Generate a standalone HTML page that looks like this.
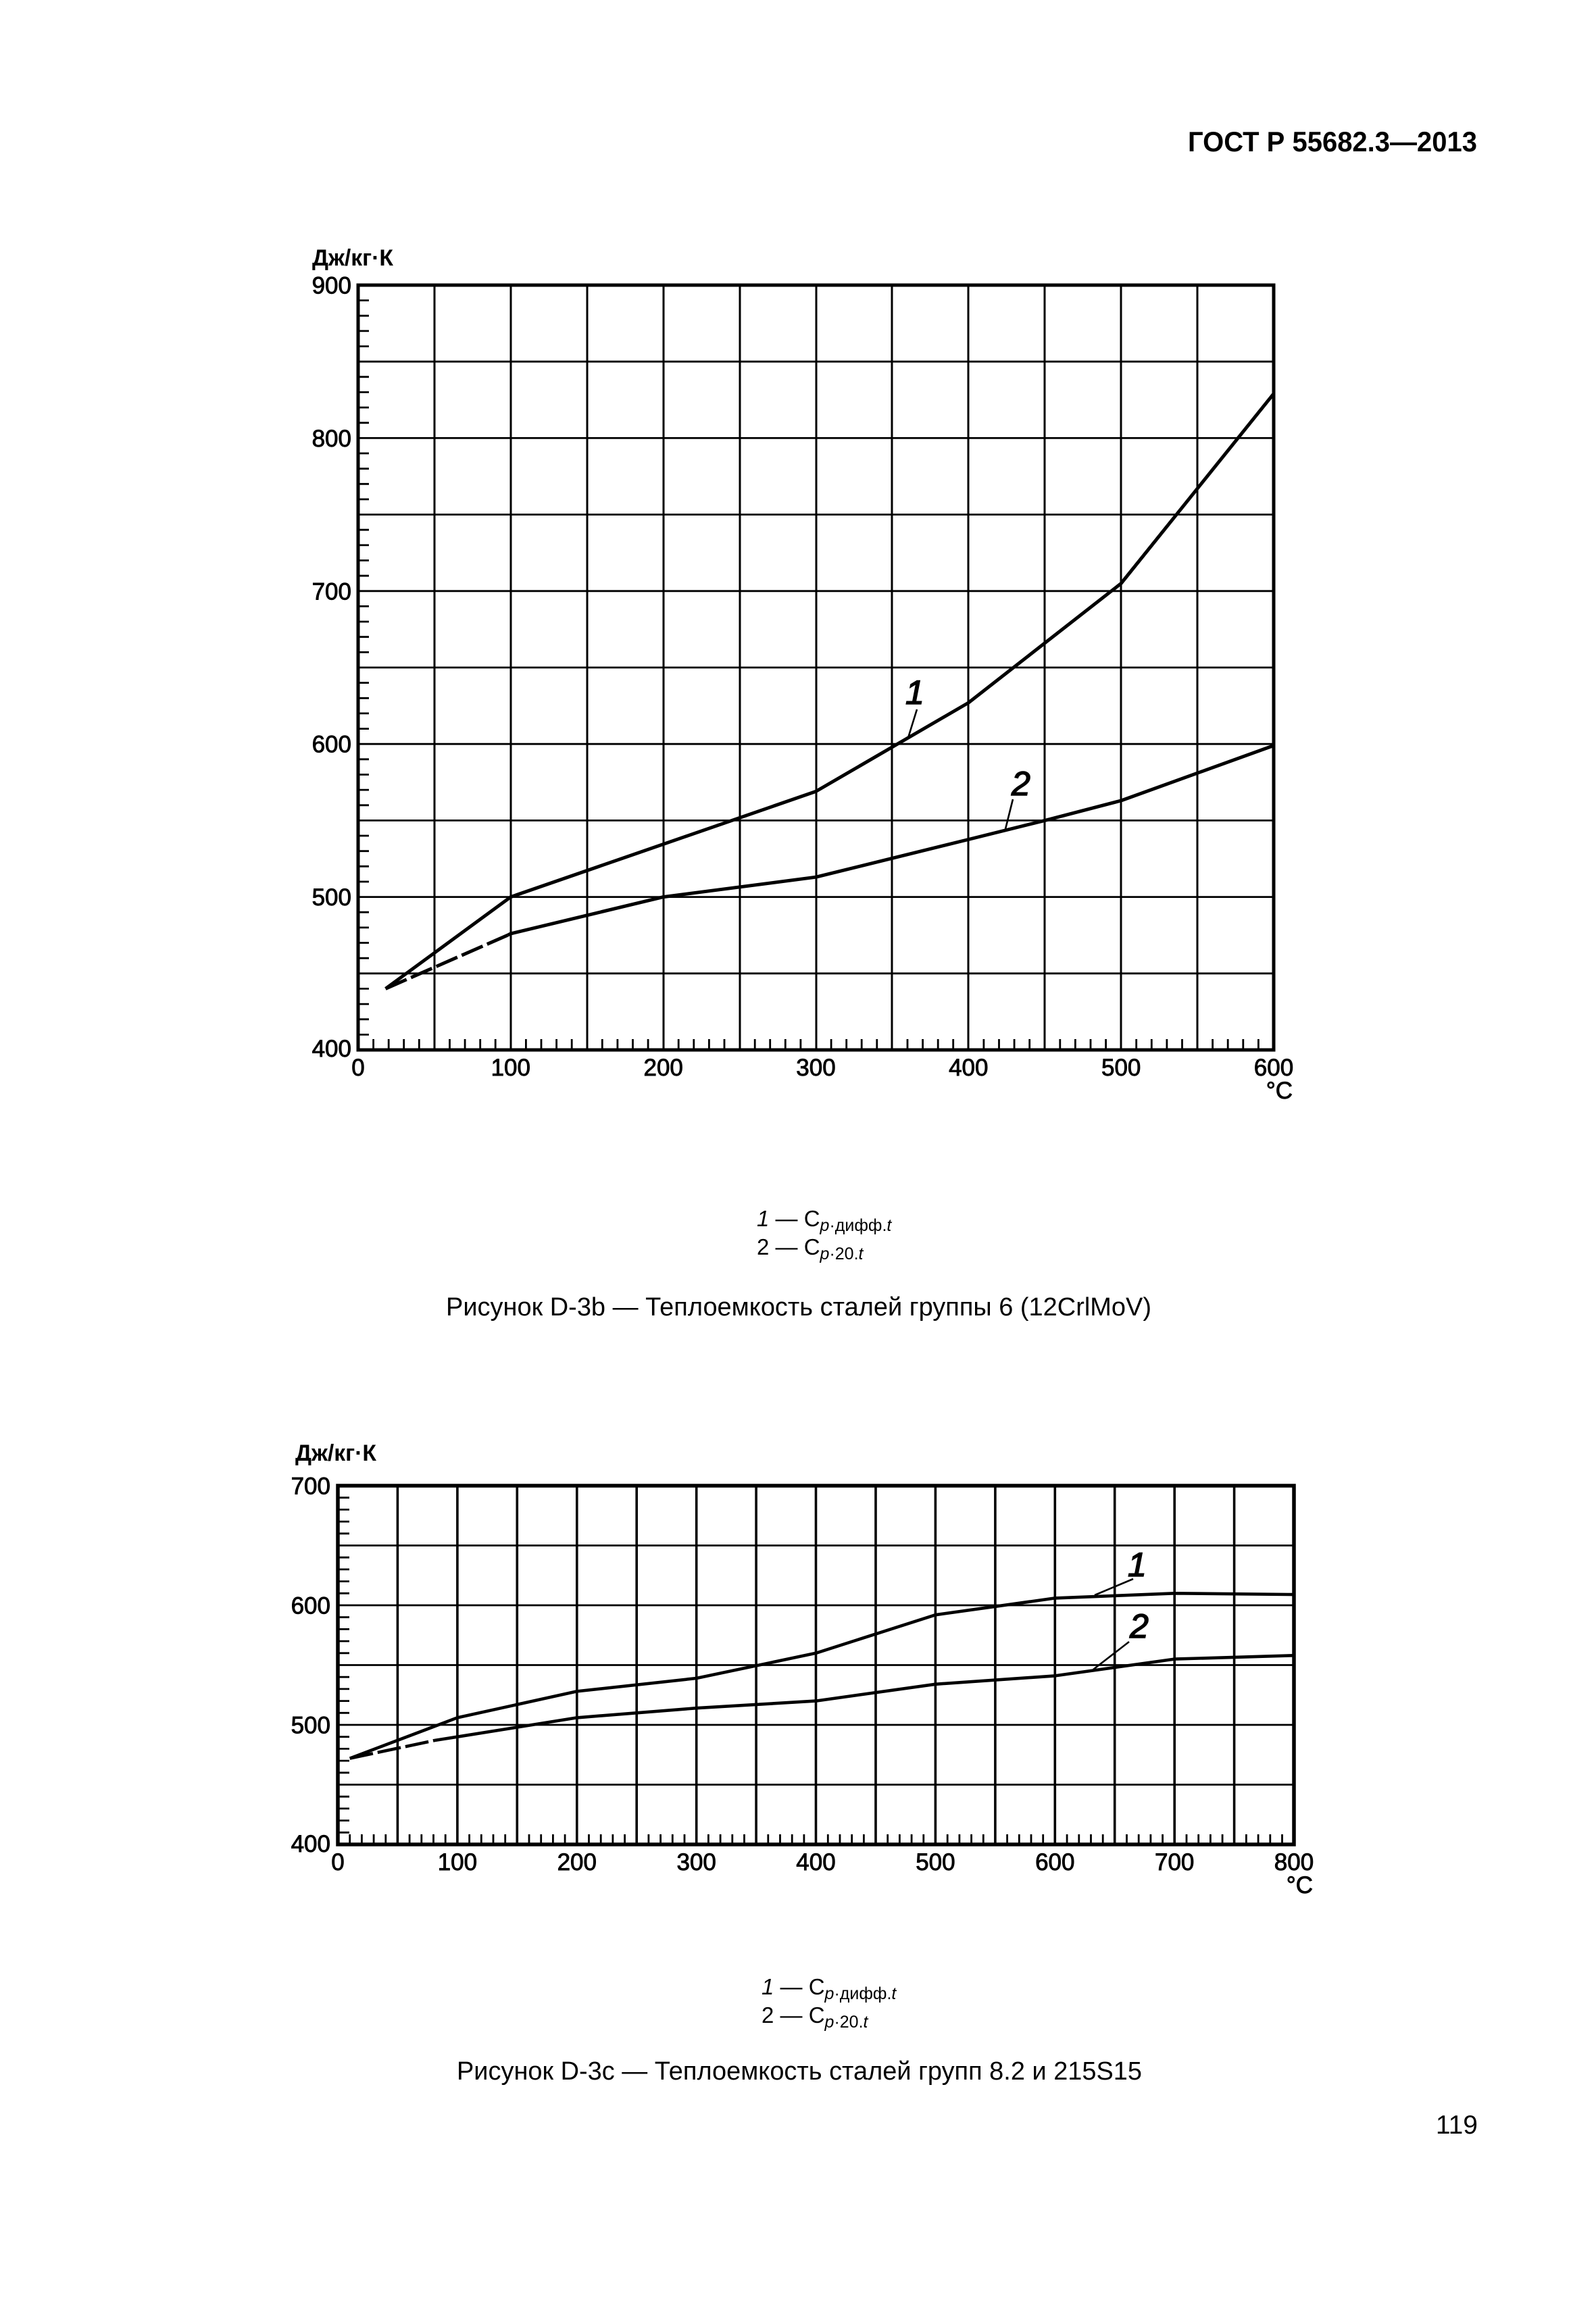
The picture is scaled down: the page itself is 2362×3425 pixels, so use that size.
<!DOCTYPE html>
<html>
<head>
<meta charset="utf-8">
<style>
  html, body { margin: 0; padding: 0; background: #ffffff; }
  svg { display: block; }
  text { font-family: "Liberation Sans", "Noto Sans CJK SC", sans-serif; fill: #000; }
  .num { stroke: #000; stroke-width: 0.9px; }
  .lbl { stroke: #000; stroke-width: 1.6px; }
</style>
</head>
<body>
<svg width="2362" height="3425" viewBox="0 0 2362 3425" xmlns="http://www.w3.org/2000/svg">
  <rect x="0" y="0" width="2362" height="3425" fill="#ffffff"/>

  <!-- Header -->
  <text x="2186" y="224" font-size="42" font-weight="bold" text-anchor="end" textLength="428" lengthAdjust="spacingAndGlyphs">ГОСТ Р 55682.3—2013</text>

  <!-- ================= CHART 1 ================= -->
  <g stroke="#000" fill="none">
    <path stroke-width="3" d="M643,422V1554 M756,422V1554 M869,422V1554 M982,422V1554 M1095,422V1554 M1208,422V1554 M1320,422V1554 M1433,422V1554 M1546,422V1554 M1659,422V1554 M1772,422V1554"/>
    <path stroke-width="2.8" d="M530,535.2H1885 M530,648.4H1885 M530,761.6H1885 M530,874.8H1885 M530,988H1885 M530,1101.2H1885 M530,1214.4H1885 M530,1327.6H1885 M530,1440.8H1885"/>
    <path stroke-width="2.8" d="M530,1531.4h16 M530,1508.7h16 M530,1486.1h16 M530,1463.4h16 M530,1418.2h16 M530,1395.5h16 M530,1372.9h16 M530,1350.2h16 M530,1305h16 M530,1282.3h16 M530,1259.7h16 M530,1237h16 M530,1191.8h16 M530,1169.1h16 M530,1146.5h16 M530,1123.8h16 M530,1078.6h16 M530,1055.9h16 M530,1033.3h16 M530,1010.6h16 M530,965.4h16 M530,942.7h16 M530,920.1h16 M530,897.4h16 M530,852.2h16 M530,829.5h16 M530,806.9h16 M530,784.2h16 M530,739h16 M530,716.3h16 M530,693.7h16 M530,671h16 M530,625.8h16 M530,603.1h16 M530,580.5h16 M530,557.8h16 M530,512.6h16 M530,489.9h16 M530,467.3h16 M530,444.6h16"/>
    <path stroke-width="2.8" d="M552.6,1554v-16 M575.2,1554v-16 M597.7,1554v-16 M620.3,1554v-16 M665.5,1554v-16 M688.1,1554v-16 M710.7,1554v-16 M733.2,1554v-16 M778.4,1554v-16 M801,1554v-16 M823.6,1554v-16 M846.2,1554v-16 M891.3,1554v-16 M913.9,1554v-16 M936.5,1554v-16 M959.1,1554v-16 M1004.2,1554v-16 M1026.8,1554v-16 M1049.4,1554v-16 M1072,1554v-16 M1117.2,1554v-16 M1139.7,1554v-16 M1162.3,1554v-16 M1184.9,1554v-16 M1230.1,1554v-16 M1252.7,1554v-16 M1275.2,1554v-16 M1297.8,1554v-16 M1343,1554v-16 M1365.6,1554v-16 M1388.2,1554v-16 M1410.7,1554v-16 M1455.9,1554v-16 M1478.5,1554v-16 M1501.1,1554v-16 M1523.7,1554v-16 M1568.8,1554v-16 M1591.4,1554v-16 M1614,1554v-16 M1636.6,1554v-16 M1681.7,1554v-16 M1704.3,1554v-16 M1726.9,1554v-16 M1749.5,1554v-16 M1794.6,1554v-16 M1817.2,1554v-16 M1839.8,1554v-16 M1862.4,1554v-16"/>
    <rect x="530" y="422" width="1355" height="1132" stroke-width="5"/>
    <polyline stroke-width="5" stroke-linejoin="round" points="570.6,1463.4 755.8,1327.6 1207.5,1171.4 1433.3,1040.1 1659.2,863.5 1885,582.7"/>
    <path stroke-width="5" stroke-dasharray="34 7" d="M570.6,1463.4 L751.3,1384.2"/>
    <polyline stroke-width="5" stroke-linejoin="round" points="751.3,1384.2 755.8,1381.9 981.7,1327.6 1207.5,1298.2 1433.3,1242.5 1546.3,1214.4 1659.2,1185 1885,1103.5"/>
    <path stroke-width="2.6" d="M1357,1050 L1344,1092 M1499,1183 L1488,1227"/>
  </g>
  <text x="462" y="393" font-size="34" font-weight="bold" textLength="120" lengthAdjust="spacingAndGlyphs">Дж/кг·К</text>
  <g font-size="35" text-anchor="end" class="num">
    <text x="520" y="434.5">900</text>
    <text x="520" y="661">800</text>
    <text x="520" y="887.3">700</text>
    <text x="520" y="1113.7">600</text>
    <text x="520" y="1340">500</text>
    <text x="520" y="1564">400</text>
  </g>
  <g font-size="35" text-anchor="middle" class="num">
    <text x="530" y="1592">0</text>
    <text x="755.8" y="1592">100</text>
    <text x="981.7" y="1592">200</text>
    <text x="1207.5" y="1592">300</text>
    <text x="1433.3" y="1592">400</text>
    <text x="1659.2" y="1592">500</text>
    <text x="1885" y="1592">600</text>
  </g>
  <text x="1913" y="1626" font-size="35" text-anchor="end" class="num">°C</text>
  <text x="1340" y="1042" font-size="50" font-style="italic" class="lbl">1</text>
  <text x="1497" y="1177" font-size="50" font-style="italic" class="lbl">2</text>

  <text x="1120" y="1815" font-size="33"><tspan font-style="italic">1</tspan> — C<tspan font-size="25" font-style="italic" dy="7">p</tspan><tspan font-size="25">·дифф.</tspan><tspan font-size="25" font-style="italic">t</tspan></text>
  <text x="1120" y="1857" font-size="33">2 — C<tspan font-size="25" font-style="italic" dy="7">p</tspan><tspan font-size="25">·20.</tspan><tspan font-size="25" font-style="italic">t</tspan></text>
  <text x="1182" y="1947" font-size="38" text-anchor="middle" textLength="1044" lengthAdjust="spacingAndGlyphs">Рисунок D-3b — Теплоемкость сталей группы 6 (12CrlMoV)</text>

  <!-- ================= CHART 2 ================= -->
  <g stroke="#000" fill="none">
    <path stroke-width="3.6" d="M588.4,2199V2730 M676.9,2199V2730 M765.3,2199V2730 M853.8,2199V2730 M942.2,2199V2730 M1030.7,2199V2730 M1119.1,2199V2730 M1207.5,2199V2730 M1296,2199V2730 M1384.4,2199V2730 M1472.9,2199V2730 M1561.3,2199V2730 M1649.7,2199V2730 M1738.2,2199V2730 M1826.6,2199V2730"/>
    <path stroke-width="2.8" d="M500,2287.5H1915 M500,2376H1915 M500,2464.5H1915 M500,2553H1915 M500,2641.5H1915"/>
    <path stroke-width="2.8" d="M500,2712.3h17 M500,2694.6h17 M500,2676.9h17 M500,2659.2h17 M500,2623.8h17 M500,2606.1h17 M500,2588.4h17 M500,2570.7h17 M500,2535.3h17 M500,2517.6h17 M500,2499.9h17 M500,2482.2h17 M500,2446.8h17 M500,2429.1h17 M500,2411.4h17 M500,2393.7h17 M500,2358.3h17 M500,2340.6h17 M500,2322.9h17 M500,2305.2h17 M500,2269.8h17 M500,2252.1h17 M500,2234.4h17 M500,2216.7h17"/>
    <path stroke-width="2.8" d="M517.7,2730v-15 M535.4,2730v-15 M553.1,2730v-15 M570.8,2730v-15 M606.1,2730v-15 M623.8,2730v-15 M641.5,2730v-15 M659.2,2730v-15 M694.6,2730v-15 M712.3,2730v-15 M730,2730v-15 M747.7,2730v-15 M783,2730v-15 M800.7,2730v-15 M818.4,2730v-15 M836.1,2730v-15 M871.5,2730v-15 M889.2,2730v-15 M906.9,2730v-15 M924.6,2730v-15 M959.9,2730v-15 M977.6,2730v-15 M995.3,2730v-15 M1013,2730v-15 M1048.4,2730v-15 M1066.1,2730v-15 M1083.8,2730v-15 M1101.5,2730v-15 M1136.8,2730v-15 M1154.5,2730v-15 M1172.2,2730v-15 M1189.9,2730v-15 M1225.3,2730v-15 M1243,2730v-15 M1260.7,2730v-15 M1278.4,2730v-15 M1313.7,2730v-15 M1331.4,2730v-15 M1349.1,2730v-15 M1366.8,2730v-15 M1402.2,2730v-15 M1419.9,2730v-15 M1437.6,2730v-15 M1455.3,2730v-15 M1490.6,2730v-15 M1508.3,2730v-15 M1526,2730v-15 M1543.7,2730v-15 M1579.1,2730v-15 M1596.8,2730v-15 M1614.5,2730v-15 M1632.2,2730v-15 M1667.5,2730v-15 M1685.2,2730v-15 M1702.9,2730v-15 M1720.6,2730v-15 M1756,2730v-15 M1773.7,2730v-15 M1791.4,2730v-15 M1809.1,2730v-15 M1844.4,2730v-15 M1862.1,2730v-15 M1879.8,2730v-15 M1897.5,2730v-15"/>
    <rect x="500" y="2199" width="1415" height="531" stroke-width="5.5"/>
    <polyline stroke-width="4.6" stroke-linejoin="round" points="517.7,2602.6 676.9,2542.4 853.8,2503.4 1030.7,2484 1207.6,2446.8 1384.5,2390.2 1561.4,2365.4 1738.3,2358.3 1915,2360.1"/>
    <path stroke-width="4.6" stroke-dasharray="35 7" d="M517.7,2602.6 L643.3,2576"/>
    <polyline stroke-width="4.6" stroke-linejoin="round" points="643.3,2576 676.9,2570.7 853.8,2542.4 1030.7,2528.2 1207.6,2517.6 1384.5,2492.8 1561.4,2480.4 1649.9,2468 1738.3,2455.6 1915,2450.3"/>
    <path stroke-width="2.6" d="M1677,2337 L1620,2361 M1671,2430 L1618,2471"/>
  </g>
  <text x="437" y="2162" font-size="34" font-weight="bold" textLength="120" lengthAdjust="spacingAndGlyphs">Дж/кг·К</text>
  <g font-size="35" text-anchor="end" class="num">
    <text x="489" y="2211.5">700</text>
    <text x="489" y="2388.5">600</text>
    <text x="489" y="2565.5">500</text>
    <text x="489" y="2741">400</text>
  </g>
  <g font-size="35" text-anchor="middle" class="num">
    <text x="500" y="2768">0</text>
    <text x="676.9" y="2768">100</text>
    <text x="853.8" y="2768">200</text>
    <text x="1030.7" y="2768">300</text>
    <text x="1207.5" y="2768">400</text>
    <text x="1384.4" y="2768">500</text>
    <text x="1561.3" y="2768">600</text>
    <text x="1738.2" y="2768">700</text>
    <text x="1915" y="2768">800</text>
  </g>
  <text x="1943" y="2802" font-size="35" text-anchor="end" class="num">°C</text>
  <text x="1669" y="2333" font-size="50" font-style="italic" class="lbl">1</text>
  <text x="1672" y="2424" font-size="50" font-style="italic" class="lbl">2</text>

  <text x="1127" y="2952" font-size="33"><tspan font-style="italic">1</tspan> — C<tspan font-size="25" font-style="italic" dy="7">p</tspan><tspan font-size="25">·дифф.</tspan><tspan font-size="25" font-style="italic">t</tspan></text>
  <text x="1127" y="2994" font-size="33">2 — C<tspan font-size="25" font-style="italic" dy="7">p</tspan><tspan font-size="25">·20.</tspan><tspan font-size="25" font-style="italic">t</tspan></text>
  <text x="1183" y="3078" font-size="38" text-anchor="middle" textLength="1014" lengthAdjust="spacingAndGlyphs">Рисунок D-3c — Теплоемкость сталей групп 8.2 и 215S15</text>

  <text x="2187" y="3158" font-size="39" text-anchor="end">119</text>
</svg>
</body>
</html>
